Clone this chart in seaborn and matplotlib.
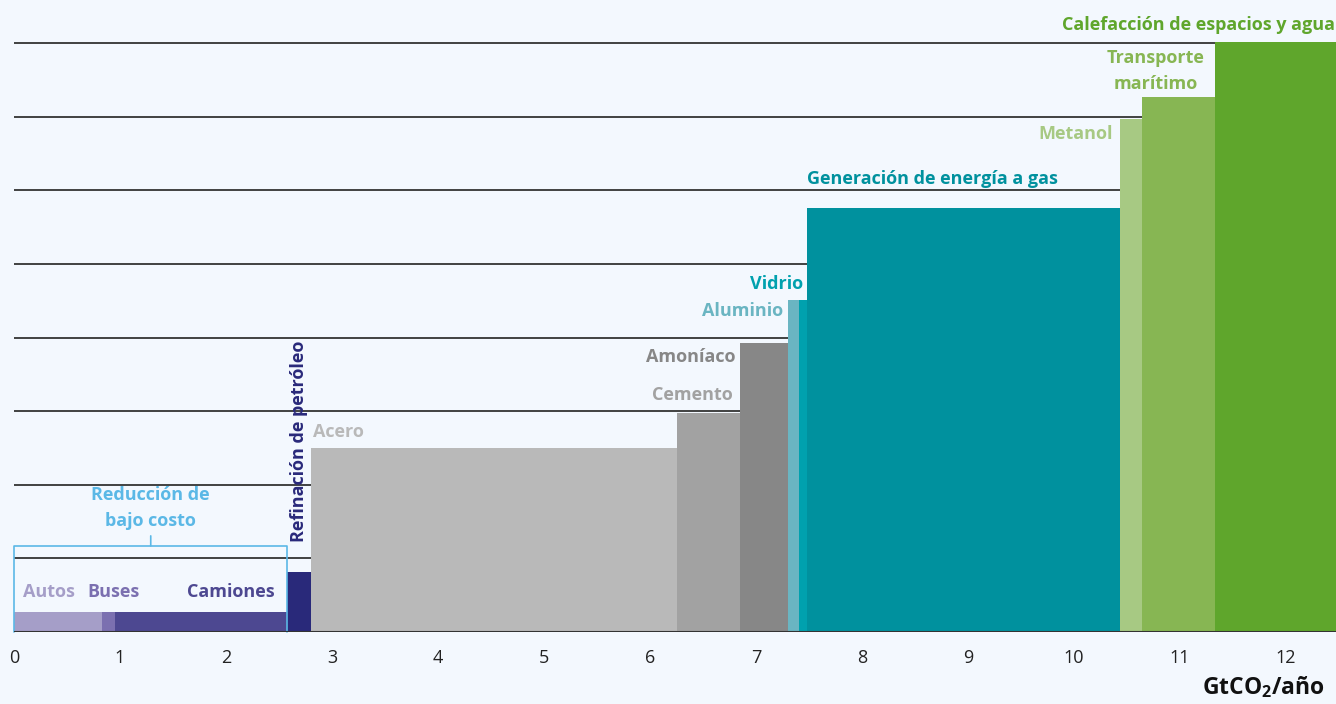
import matplotlib
matplotlib.use("Agg")
import matplotlib.pyplot as plt
import numpy as np
import pandas as pd
import seaborn as sns

# ---------------- data ----------------
sectors = ["Autos", "Buses", "Camiones", "Refinación de petróleo", "Acero", "Cemento",
           "Amoníaco", "Aluminio", "Vidrio", "Generación de energía a gas", "Metanol",
           "Transporte marítimo", "Calefacción de espacios y agua"]
widths = [0.83, 0.12, 1.63, 0.22, 3.45, 0.60, 0.45, 0.11, 0.07, 2.95, 0.21, 0.69, 1.20]   # GtCO2/año
costs = [0.27, 0.27, 0.27, 0.82, 2.50, 2.97, 3.93, 4.51, 4.51, 5.76, 6.97, 7.27, 8.02]    # relative cost
colors = ["#a59ec8", "#7b70b0", "#4d4891", "#29297a", "#b9b9b9", "#a2a2a2", "#878787",
          "#6ab5c2", "#00a1ae", "#00919e", "#a7c983", "#87b653", "#5fa62c"]
xticks = list(range(0, 13))
low_cost_group = ["Autos", "Buses", "Camiones"]
low_cost_label = "Reducción de\nbajo costo"
xlabel = "GtCO$_2$/año"

# ---------------- style ----------------
BG = "#f3f8fe"
sns.set_theme(style="white")
plt.rcParams["font.family"] = ["Open Sans", "DejaVu Sans"]
plt.rcParams["mathtext.fontset"] = "custom"
plt.rcParams["mathtext.rm"] = "Open Sans:bold"
plt.rcParams["mathtext.bf"] = "Open Sans:bold"

edges = np.concatenate([[0], np.cumsum(widths)])
mids = (edges[:-1] + edges[1:]) / 2
df = pd.DataFrame({"sector": sectors, "mid": mids, "cost": costs})

fig = plt.figure(figsize=(13.36, 7.04), dpi=100, facecolor=BG)
ax = fig.add_axes([14 / 1336, 72 / 704, 1 - 14 / 1336, 632 / 704])
ax.set_facecolor(BG)

XMAX = 1322 / 106.0
YMAX = 632 / 73.6

# grid lines behind bars
for g in range(1, 9):
    ax.axhline(g, color="#333333", lw=1.3, zorder=0.5)

sns.histplot(data=df, x="mid", weights="cost", hue="sector", hue_order=sectors,
             palette=dict(zip(sectors, colors)), bins=[float(e) for e in edges],
             multiple="layer", stat="count", alpha=1, linewidth=0, legend=False,
             ax=ax, zorder=2)
ax.set_xlim(0, XMAX)
ax.set_ylim(0, YMAX)

ax.axhline(0, color="#333333", lw=1.5, zorder=5)

for s in ax.spines.values():
    s.set_visible(False)
ax.set_yticks([])
ax.set_ylabel("")
ax.set_xlabel("")
ax.set_xticks(xticks)
ax.set_xticklabels([str(t) for t in xticks], fontsize=13, color="#222222")
ax.tick_params(axis="x", length=0, pad=12)

ax.annotate(xlabel, xy=(1, 0), xycoords="axes fraction", xytext=(-8, -40),
            textcoords="offset points", ha="right", va="center",
            fontsize=16.5, fontweight="bold", color="#111111", annotation_clip=False)

# ---------------- labels ----------------
PT = 72 / 100.0
FS = 13

def lab(i, text, anchor, dx, dy, ha, va="center", **kw):
    x = edges[i] if anchor == "left" else (edges[i + 1] if anchor == "right" else mids[i])
    ax.annotate(text, xy=(x, costs[i]), xytext=(dx * PT, dy * PT),
                textcoords="offset points", ha=ha, va=va, fontsize=FS,
                fontweight="bold", color=colors[i], zorder=6,
                annotation_clip=False, **kw)

lab(0, "Autos", "left", 9, 20, "left")
lab(1, "Buses", "left", -15, 20, "left")
lab(2, "Camiones", "right", -13, 20, "right")
lab(3, "Refinación de petróleo", "mid", 0, 30, "center", va="bottom", rotation=90)
lab(4, "Acero", "left", 2, 16, "left")
lab(5, "Cemento", "right", -7, 18, "right")
lab(6, "Amoníaco", "left", -5, -14, "right")
lab(7, "Aluminio", "left", -5, -11, "right")
lab(8, "Vidrio", "right", -4, 16, "right")
lab(9, "Generación de energía a gas", "left", 0, 29, "left")
lab(10, "Metanol", "left", -7, -15, "right")
lab(11, "Transporte\nmarítimo", "right", -10, 26, "right", multialignment="center",
    linespacing=1.6)
ax.annotate(sectors[12], xy=(1, costs[12]), xycoords=("axes fraction", "data"),
            xytext=(-1 * PT, 17 * PT), textcoords="offset points", ha="right",
            va="center", fontsize=FS, fontweight="bold", color=colors[12],
            annotation_clip=False)

# bracket for low-cost group
n = len(low_cost_group)
bx0, bx1 = edges[0], edges[n]
btop = 1.17
bcol = "#5bb8e6"
ax.plot([bx0, bx0, bx1, bx1], [0, btop, btop, 0], color=bcol, lw=1.2,
        zorder=4, clip_on=False)
bmid = (bx0 + bx1) / 2
ax.annotate("", xy=(bmid, btop), xytext=(0, 10 * PT), textcoords="offset points",
            arrowprops=dict(arrowstyle="-", color=bcol, lw=1.2,
                            shrinkA=0, shrinkB=0))
ax.annotate(low_cost_label, xy=(bmid, btop), xytext=(0, 38 * PT),
            textcoords="offset points", ha="center", va="center",
            fontsize=FS, fontweight="bold", color=bcol, linespacing=1.6)

fig.savefig("out.png", dpi=100, facecolor=BG)
